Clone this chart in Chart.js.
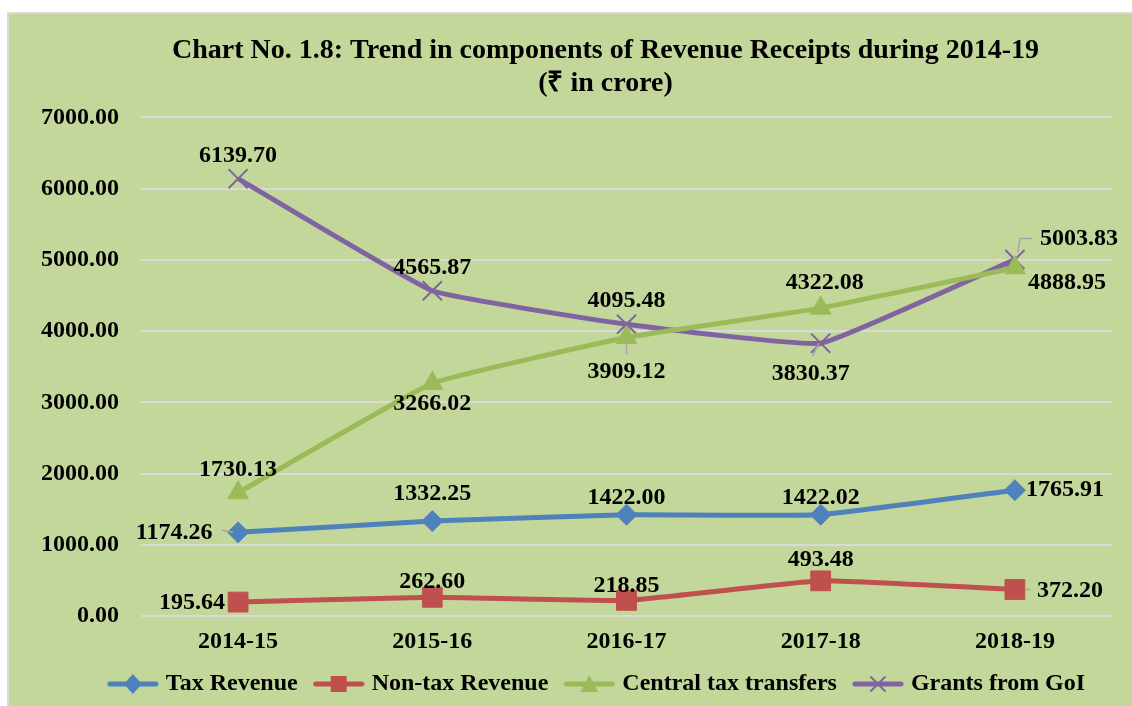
<!DOCTYPE html>
<html>
<head>
<meta charset="utf-8">
<script src="https://cdn.jsdelivr.net/npm/chart.js@4.4.1/dist/chart.umd.min.js"></script>
<style>
    html, body { margin: 0; padding: 0; background: #ffffff; overflow: hidden; }
    #frame {
        position: absolute; left: 7px; top: 12px; width: 1140px; height: 720px;
        background: #c4d79b; border: 2px solid #d9d9d9; box-sizing: border-box;
    }
    #wrap { position: absolute; left: 0; top: 0; width: 1132px; height: 706px; }
</style>
</head>
<body>
<div id="frame"></div>
<div id="wrap"><canvas id="trend-chart"></canvas></div>
<script>
// Revenue receipts components, 2014-19 (Rs in crore)
const years = ['2014-15', '2015-16', '2016-17', '2017-18', '2018-19'];
const taxRevenue = [1174.26, 1332.25, 1422.00, 1422.02, 1765.91];
const nonTaxRevenue = [195.64, 262.60, 218.85, 493.48, 372.20];
const centralTaxTransfers = [1730.13, 3266.02, 3909.12, 4322.08, 4888.95];
const grantsFromGoI = [6139.70, 4565.87, 4095.48, 3830.37, 5003.83];
const yTicks = [0, 1000, 2000, 3000, 4000, 5000, 6000, 7000];

const FONT = "'Liberation Serif', 'Times New Roman', serif";

// where each value label sits relative to its point (px), plus optional leader line
const labelPlacement = [
    [{dx: -64, dy: 0, leader: [[-16, -2], [-5, 0]]}, {dx: 0, dy: -27}, {dx: 0, dy: -17}, {dx: 0, dy: -17}, {dx: 11, dy: 0, align: 'left'}],
    [{dx: -13, dy: 1, align: 'right'}, {dx: 0, dy: -15}, {dx: 0, dy: -15}, {dx: 0, dy: -21}, {dx: 22, dy: 1, align: 'left', leader: [[10, 0], [16, 0]]}],
    [{dx: 0, dy: -23}, {dx: 0, dy: 20}, {dx: 0, dy: 34, leader: [[0, 4], [0, 17]]}, {dx: 4, dy: -25}, {dx: 13, dy: 15, align: 'left'}],
    [{dx: 0, dy: -23}, {dx: 0, dy: -23}, {dx: 0, dy: -23}, {dx: -10, dy: 31, leader: [[-2, 0], [-8, 13]]}, {dx: 25, dy: -21, align: 'left', leader: [[3, -7], [5, -21], [17, -21]]}]
];

const seriesColors = ['#4f81bd', '#c0504d', '#9bbb59', '#8064a2'];
const seriesStyles = ['rectRot', 'rect', 'triangle', 'crossRot'];

function legendIcon(color, style) {
    const c = document.createElement('canvas');
    c.width = 52; c.height = 22;
    const g = c.getContext('2d');
    g.strokeStyle = color; g.lineWidth = 5; g.lineCap = 'round';
    g.beginPath(); g.moveTo(3, 11); g.lineTo(49, 11); g.stroke();
    g.fillStyle = color;
    g.lineWidth = 2;
    g.beginPath();
    if (style === 'rectRot') { g.moveTo(26, 1); g.lineTo(35, 11); g.lineTo(26, 21); g.lineTo(17, 11); }
    else if (style === 'rect') { g.rect(18, 3, 16, 16); }
    else if (style === 'triangle') { g.moveTo(26, 2); g.lineTo(35, 19); g.lineTo(17, 19); }
    else { g.moveTo(19, 4); g.lineTo(33, 18); g.moveTo(33, 4); g.lineTo(19, 18); }
    if (style === 'crossRot') g.stroke();
    else { g.closePath(); g.fill(); }
    return c;
}

// title and legend are centred a little right of the canvas centre in the original
const shiftBlocks = {
    id: 'shiftBlocks',
    afterLayout(chart) {
        if (chart.titleBlock) chart.titleBlock.left += 80;
        if (chart.legend) chart.legend.left += 66;
    }
};

const valueLabels = {
    id: 'valueLabels',
    afterDatasetsDraw(chart) {
        const ctx = chart.ctx;
        ctx.save();
        ctx.font = 'bold 24px ' + FONT;
        ctx.textBaseline = 'middle';
        chart.data.datasets.forEach((ds, i) => {
            const meta = chart.getDatasetMeta(i);
            meta.data.forEach((pt, j) => {
                const p = labelPlacement[i][j];
                if (p.leader) {
                    ctx.strokeStyle = '#a6a6a6';
                    ctx.lineWidth = 1.5;
                    ctx.beginPath();
                    p.leader.forEach((q, k) => {
                        if (k === 0) ctx.moveTo(pt.x + q[0], pt.y + q[1]);
                        else ctx.lineTo(pt.x + q[0], pt.y + q[1]);
                    });
                    ctx.stroke();
                }
                ctx.fillStyle = '#000000';
                ctx.textAlign = p.align || 'center';
                ctx.fillText(ds.data[j].toFixed(2), pt.x + p.dx, pt.y + p.dy);
            });
        });
        ctx.restore();
    }
};

function makeDataset(label, data, idx) {
    const style = seriesStyles[idx];
    return {
        label: label,
        data: data,
        borderColor: seriesColors[idx],
        backgroundColor: seriesColors[idx],
        borderWidth: 5,
        tension: 0.1,
        pointStyle: style,
        pointRadius: style === 'rect' ? 14 : style === 'crossRot' ? 13.5 : style === 'triangle' ? 12 : 10.5,
        pointBorderWidth: style === 'crossRot' ? 2 : 1,
        pointBackgroundColor: seriesColors[idx],
        pointBorderColor: seriesColors[idx]
    };
}

const ctx = document.getElementById('trend-chart');
new Chart(ctx, {
    type: 'line',
    data: {
        labels: years,
        datasets: [
            makeDataset('Tax Revenue', taxRevenue, 0),
            makeDataset('Non-tax Revenue', nonTaxRevenue, 1),
            makeDataset('Central tax transfers', centralTaxTransfers, 2),
            makeDataset('Grants from GoI', grantsFromGoI, 3)
        ]
    },
    options: {
        responsive: true,
        maintainAspectRatio: false,
        animation: false,
        layout: { padding: { left: 19, right: 20, top: 35, bottom: 0 } },
        plugins: {
            title: {
                display: true,
                text: ['Chart No. 1.8: Trend in components of Revenue Receipts during 2014-19', '(\u20b9 in crore)'],
                color: '#000000',
                font: { family: FONT, size: 28, weight: 'bold', lineHeight: 1.15 },
                padding: { top: 0, bottom: 18 }
            },
            legend: {
                position: 'bottom',
                labels: {
                    color: '#000000',
                    font: { family: FONT, size: 24, weight: 'bold' },
                    usePointStyle: true,
                    pointStyleWidth: 42,
                    boxHeight: 20,
                    padding: 20,
                    generateLabels(chart) {
                        return chart.data.datasets.map((ds, i) => ({
                            text: ds.label,
                            fillStyle: seriesColors[i],
                            strokeStyle: seriesColors[i],
                            lineWidth: 0,
                            pointStyle: legendIcon(seriesColors[i], seriesStyles[i]),
                            datasetIndex: i,
                            hidden: false
                        }));
                    }
                }
            },
            tooltip: { enabled: false }
        },
        scales: {
            x: {
                offset: true,
                grid: { display: false },
                border: { display: false },
                afterFit(scale) { scale.height = 36; },
                ticks: {
                    color: '#000000',
                    font: { family: FONT, size: 24, weight: 'bold' },
                    padding: 3
                }
            },
            y: {
                min: 0,
                max: 7000,
                afterBuildTicks(axis) { axis.ticks = yTicks.map(v => ({ value: v })); },
                grid: { color: '#d9d9d9', lineWidth: 2, drawTicks: false },
                border: { display: false },
                ticks: {
                    color: '#000000',
                    font: { family: FONT, size: 24, weight: 'bold' },
                    padding: 22,
                    callback: v => v.toFixed(2)
                }
            }
        }
    },
    plugins: [valueLabels, shiftBlocks]
});
</script>
</body>
</html>
